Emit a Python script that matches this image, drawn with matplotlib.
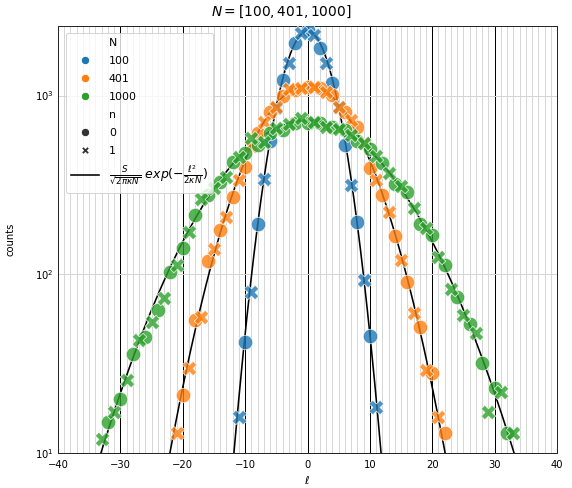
import numpy as np
import matplotlib
matplotlib.use("Agg")
import matplotlib.pyplot as plt
from matplotlib.lines import Line2D

# ---------------- data ----------------
N_values = [100, 401, 1000]
colors = ["#1f77b4", "#ff7f0e", "#2ca02c"]

# N = 100
l_100_n0 = [-10, -8, -6, -4, -2, 0, 2, 4, 6, 8, 10]
c_100_n0 = [42, 190, 560, 1220, 1960, 2330, 1840, 1170, 530, 197, 45]
l_100_n1 = [-11, -9, -7, -5, -3, -1, 1, 3, 5, 7, 9, 11]
c_100_n1 = [16, 80, 340, 850, 1530, 2250, 2180, 1530, 860, 316, 93, 18]

# N = 401
l_401_n0 = [-20, -18, -16, -14, -12, -10, -8, -6, -4, -2, 0, 2, 4, 6, 8, 10, 12, 14, 16, 18, 20, 22]
c_401_n0 = [21, 55.5, 118, 177, 270, 400, 615, 810, 1000, 1075, 1120, 1100, 1007, 813, 670, 392, 276, 164, 91, 51, 28, 13]
l_401_n1 = [-21, -19, -17, -15, -13, -11, -9, -7, -5, -3, -1, 1, 3, 5, 7, 9, 11, 13, 15, 17, 19, 21]
c_401_n1 = [12.9, 29.8, 58, 138, 208, 335, 520, 710, 860, 1090, 1100, 1120, 1052, 867, 730, 540, 335, 222, 120, 60.5, 29, 16]

# N = 1000
l_1000_n0 = [-32, -30, -28, -26, -24, -22, -20, -18, -16, -14, -12, -10, -8, -6, -4, -2,
             0, 2, 4, 6, 8, 10, 12, 14, 16, 18, 20, 22, 24, 26, 28, 30, 32]
c_1000_n0 = [15, 20, 36, 44.7, 63, 103, 140, 216, 278, 330, 427, 476, 530, 615, 640, 700,
             700, 700, 670, 640, 560, 500, 418, 320, 287, 191, 165, 113, 75, 53, 32, 23, 13]
l_1000_n1 = [-33, -31, -29, -27, -25, -23, -21, -19, -17, -15, -13, -11, -9, -7, -5, -3, -1,
             1, 3, 5, 7, 9, 11, 13, 15, 17, 19, 21, 23, 25, 27, 29, 31, 33]
c_1000_n1 = [12, 17, 25.7, 43, 54, 73.5, 113, 172, 264, 303, 352, 455, 577, 552, 656, 690, 746,
             714, 670, 650, 600, 540, 460, 367, 312, 234, 182, 125, 83, 59, 47, 17, 22, 13]

# fit parameters of the theoretical curve
S = 20600.0
kappa = 0.128

series = [
    (l_100_n0, c_100_n0, l_100_n1, c_100_n1),
    (l_401_n0, c_401_n0, l_401_n1, c_401_n1),
    (l_1000_n0, c_1000_n0, l_1000_n1, c_1000_n1),
]

# ---------------- figure ----------------
plt.rcParams["font.family"] = ["DejaVu Sans"]
plt.rcParams["font.size"] = 10
plt.rcParams["mathtext.fontset"] = "dejavusans"

fig = plt.figure(figsize=(572 / 72, 488 / 72), dpi=72)
ax = fig.add_axes([58 / 572, 1 - 453 / 488, (557 - 58) / 572, (453 - 26) / 488])

ax.set_yscale("log")
ax.set_xlim(-40, 40)
ax.set_ylim(10, 2450)

ax.set_xticks(np.arange(-40, 41, 10))
ax.set_xticks(np.arange(-40, 41, 1), minor=True)
ax.yaxis.set_minor_formatter(matplotlib.ticker.NullFormatter())
ax.grid(which="minor", axis="x", color="#d6d6d6", lw=1.0, zorder=0)
ax.grid(which="major", axis="x", color="k", lw=1.0, zorder=0)
ax.grid(which="major", axis="y", color="#d4d4d4", lw=1.0, zorder=0)
ax.set_axisbelow(True)
ax.tick_params(which="both", length=0, labelsize=10)
ax.tick_params(axis="x", pad=7)
ax.tick_params(axis="y", pad=4)
for sp in ax.spines.values():
    sp.set_color("#262626")
    sp.set_linewidth(1.0)

# theoretical curves
lx = np.linspace(-40, 40, 1601)
for N in N_values:
    y = S / np.sqrt(2 * np.pi * kappa * N) * np.exp(-lx ** 2 / (2 * kappa * N))
    ax.plot(lx, y, color="k", lw=1.6, zorder=2)

# scatter points
msize = 210
for (l0, c0, l1, c1), col in zip(series, colors):
    ax.scatter(l0, c0, s=msize, marker="o", color=col, edgecolor="white",
               linewidth=0.8, alpha=0.8, zorder=3)
    ax.scatter(l1, c1, s=msize, marker="X", color=col, edgecolor="white",
               linewidth=0.8, alpha=0.8, zorder=3)

fig.text(281 / 572, 1 - 12 / 488, r"$N = [100, 401, 1000]$", fontsize=13.7,
         ha="center", va="center")
ax.set_xlabel(r"$\ell$", fontsize=11, labelpad=4)
ax.set_ylabel("counts", fontsize=10, labelpad=20)

# legend
def header(txt):
    return Line2D([], [], linestyle="", marker="", label=txt)

handles = [header("N")]
for N, col in zip(N_values, colors):
    handles.append(Line2D([], [], linestyle="", marker="o", markersize=8.5,
                          markerfacecolor=col, markeredgecolor="white", label=str(N)))
handles.append(header("n"))
handles.append(Line2D([], [], linestyle="", marker="o", markersize=8.5,
                      markerfacecolor="#333333", markeredgecolor="white", label="0"))
handles.append(Line2D([], [], linestyle="", marker="X", markersize=8.5,
                      markerfacecolor="#333333", markeredgecolor="white", label="1"))
handles.append(Line2D([], [], color="k", lw=1.6,
                      label=r"$\frac{S}{\sqrt{2\pi\kappa N}}\ exp(-\frac{\ell^2}{2\kappa N})$"))
leg = ax.legend(handles=handles, loc="upper left", fontsize=11, frameon=True,
                borderpad=0.5, labelspacing=0.72, handlelength=2.5, handletextpad=0.9,
                bbox_to_anchor=(0.005, 0.997))
leg.get_texts()[-1].set_fontsize(12.5)
leg.get_frame().set_edgecolor("#cccccc")
leg.get_frame().set_alpha(0.8)

fig.savefig("out.png", dpi=72)
